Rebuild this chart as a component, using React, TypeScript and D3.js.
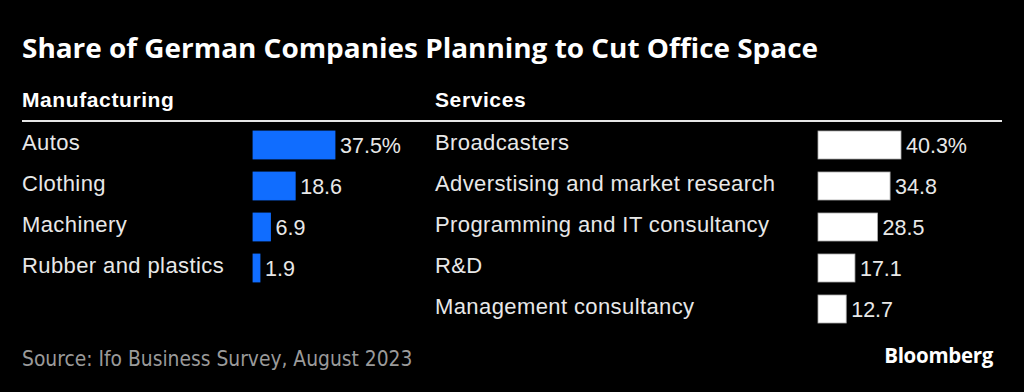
import React from "react";
import * as d3 from "d3";

const manufacturingCategories = ["Autos", "Clothing", "Machinery", "Rubber and plastics"];
const manufacturingValues = [37.5, 18.6, 6.9, 1.9];
const manufacturingLabels = ["37.5%", "18.6", "6.9", "1.9"];

const servicesCategories = [
  "Broadcasters",
  "Adverstising and market research",
  "Programming and IT consultancy",
  "R&D",
  "Management consultancy",
];
const servicesValues = [40.3, 34.8, 28.5, 17.1, 12.7];
const servicesLabels = ["40.3%", "34.8", "28.5", "17.1", "12.7"];

const W = 1024;
const H = 392;

function Panel({ cats, vals, labels, labelX, barX, barMax, color, stroke }: any) {
  const y = d3
    .scaleBand<string>()
    .domain(servicesCategories.map((_, i) => String(i)))
    .range([131 - 6.5, 131 - 6.5 + 41 * 5])
    .paddingInner(13 / 41)
    .paddingOuter(6.5 / 41);
  const x = d3.scaleLinear().domain([0, d3.max(vals as number[])!]).range([3, barMax]);
  return (
    <g>
      {cats.map((c: string, i: number) => {
        const y0 = y(String(i))!;
        const bw = y.bandwidth();
        const cy = y0 + bw / 2;
        const w = x(vals[i]);
        return (
          <g key={c}>
            <text x={labelX} y={cy + 4.5} fill="#e8e8e8" fontSize={22} letterSpacing={0.4} fontFamily="'Liberation Sans', Arial, sans-serif">
              {c}
            </text>
            <rect x={barX} y={y0} width={w} height={bw} fill={color} stroke={stroke} strokeWidth={0.8} />
            <text x={barX + w + 5} y={cy + 7.5} fill="#e8e8e8" fontSize={21.5} fontFamily="'Liberation Sans', Arial, sans-serif">
              {labels[i]}
            </text>
          </g>
        );
      })}
    </g>
  );
}

export default function App() {
  return (
    <svg width={W} height={H} style={{ position: "absolute", left: 0, top: 0, background: "#000" }}>
      <rect x={0} y={0} width={W} height={H} fill="#000" />
      <text x={22} y={58} fill="#fff" fontSize={26.5} fontWeight={700} fontFamily="'Open Sans', sans-serif" textLength={796} lengthAdjust="spacingAndGlyphs">
        Share of German Companies Planning to Cut Office Space
      </text>
      <text x={22} y={107} fill="#fff" fontSize={21} fontWeight={700} letterSpacing={0.6} fontFamily="'Liberation Sans', Arial, sans-serif">
        Manufacturing
      </text>
      <text x={435} y={107} fill="#fff" fontSize={21} fontWeight={700} letterSpacing={0.6} fontFamily="'Liberation Sans', Arial, sans-serif">
        Services
      </text>
      <rect x={22} y={120} width={980} height={2} fill="#e6e6e6" />
      <Panel
        cats={manufacturingCategories}
        vals={manufacturingValues}
        labels={manufacturingLabels}
        labelX={22}
        barX={253}
        barMax={82}
        color="#106dff"
        stroke="#106dff"
      />
      <Panel
        cats={servicesCategories}
        vals={servicesValues}
        labels={servicesLabels}
        labelX={435}
        barX={818}
        barMax={83}
        color="#ffffff"
        stroke="#aaaaaa"
      />
      <text x={22} y={366} fill="#9a9a9a" fontSize={20.8} fontFamily="'Liberation Sans Narrow', 'DejaVu Sans Condensed', sans-serif">
        Source: Ifo Business Survey, August 2023
      </text>
      <text x={993} y={363} textAnchor="end" fill="#fff" fontSize={20.5} fontWeight={700} fontFamily="'Open Sans', sans-serif" letterSpacing={-0.3}>
        Bloomberg
      </text>
    </svg>
  );
}
